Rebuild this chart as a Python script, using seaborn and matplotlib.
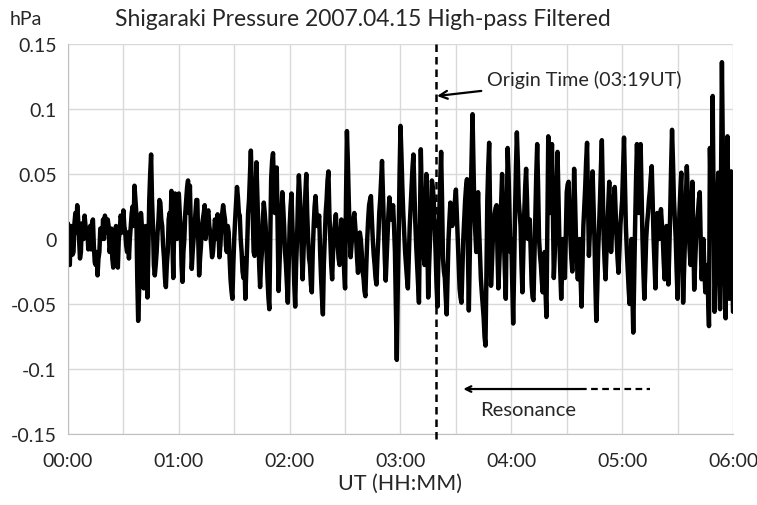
import numpy as np
import pandas as pd
import matplotlib
matplotlib.use('Agg')
import matplotlib.pyplot as plt
import seaborn as sns

# pressure readings at each whole minute (hPa)
hour0 = [0.012, -0.02, 0.0, -0.01, 0.02, 0.026, 0.0, -0.01, 0.008, 0.018,
         0.002, -0.008, 0.01, 0.012, -0.005, -0.02, -0.028, -0.01, 0.005, 0.015,
         0.018, 0.005, 0.01, -0.005, -0.015, -0.02, 0.01, -0.022, 0.005, 0.015,
         0.022, 0.005, -0.01, -0.015, 0.01, 0.025, 0.041, 0.02, -0.063, -0.02,
         0.01, -0.038, 0.01, -0.045, 0.03, 0.065, 0.01, -0.028, -0.01, 0.015,
         0.028, 0.01, -0.015, -0.037, -0.01, 0.02, 0.037, -0.03, 0.035, 0.0]
hour1 = [0.035, 0.01, -0.033, 0.0, 0.03, 0.045, 0.041, -0.023, 0.0, 0.02,
         0.03, -0.028, -0.005, 0.015, 0.026, 0.01, 0.022, 0.005, -0.014, 0.0,
         0.012, 0.019, -0.014, 0.01, 0.026, 0.015, -0.01, 0.005, -0.031, -0.046,
         0.0, 0.028, 0.032, 0.018, -0.01, -0.03, -0.046, -0.005, 0.03, 0.068,
         0.02, -0.013, 0.059, 0.01, -0.037, -0.01, 0.028, 0.01, -0.03, -0.054,
         0.047, 0.066, 0.02, 0.055, -0.04, 0.0, 0.036, 0.01, -0.02, -0.049]
hour2 = [0.01, 0.035, -0.01, -0.052, 0.0, 0.049, 0.02, -0.031, 0.01, 0.05,
         0.0, -0.02, -0.041, 0.01, 0.033, 0.01, 0.018, -0.03, -0.058, 0.0,
         0.03, 0.052, 0.0, -0.031, 0.005, 0.019, -0.005, -0.02, 0.015, 0.0,
         -0.038, 0.083, 0.03, -0.014, 0.005, 0.02, 0.0, -0.026, 0.005, -0.01,
         -0.03, -0.044, 0.0, 0.026, 0.033, 0.0, -0.02, -0.035, 0.0, 0.03,
         0.06, 0.01, -0.032, 0.0, 0.032, 0.015, 0.026, -0.01, -0.093, 0.0]
hour3 = [0.087, 0.04, 0.005, -0.02, -0.038, 0.01, 0.04, 0.065, 0.013, -0.02,
         -0.049, 0.069, 0.0, -0.02, 0.05, -0.045, 0.0, 0.045, 0.03, -0.01,
         -0.052, 0.02, 0.067, -0.015, -0.03, -0.058, 0.0, 0.028, 0.01, 0.018,
         0.038, 0.0, -0.038, -0.049, 0.0, 0.03, 0.046, -0.055, 0.03, 0.096,
         0.02, -0.01, 0.036, -0.01, -0.041, -0.06, -0.082, 0.03, 0.074, -0.036,
         0.0, 0.02, 0.026, -0.038, 0.0, 0.05, 0.0, -0.046, 0.07, 0.02]
hour4 = [0.0, -0.065, 0.02, 0.082, 0.03, 0.01, -0.041, 0.02, 0.054, 0.0,
         0.015, -0.035, -0.047, 0.02, 0.073, 0.0, -0.02, -0.041, -0.01, -0.06,
         0.079, 0.02, 0.073, -0.03, 0.01, 0.067, 0.0, -0.046, 0.0, -0.03,
         0.036, 0.044, 0.0, -0.025, 0.054, 0.0, -0.031, 0.0, -0.052, 0.01,
         0.04, 0.074, -0.013, 0.02, 0.052, 0.0, -0.063, -0.01, 0.03, 0.076,
         0.0, -0.031, 0.01, 0.044, -0.01, 0.02, 0.04, 0.0, -0.026, 0.01]
hour5 = [0.03, 0.078, 0.01, -0.023, -0.05, 0.0, -0.072, 0.01, 0.073, 0.02,
         0.073, 0.0, -0.046, 0.0, 0.02, 0.037, 0.056, 0.0, -0.038, 0.02,
         0.0, 0.023, 0.0, -0.031, 0.01, -0.035, 0.02, 0.084, 0.031, 0.0,
         -0.046, 0.02, 0.051, -0.049, 0.0, 0.056, 0.01, -0.02, 0.044, -0.039,
         0.0, 0.02, 0.036, -0.031, 0.0, -0.041, -0.02, -0.067, 0.03, 0.11,
         -0.056, 0.0, 0.051, -0.054, 0.136, 0.0, -0.061, 0.079, -0.046, 0.052,
         -0.056]

# readings at the half minutes in between (short wiggles in the trace)
half0 = [-0.015, 0.01, -0.012, 0.012, 0.005, 0.015, -0.015, 0.012, 0.0, 0.01,
         0.006, 0.004, -0.008, 0.015, -0.018, -0.01, -0.015, 0.008, 0.0, 0.0,
         0.012, 0.015, -0.01, 0.008, -0.022, 0.0, -0.008, 0.0, 0.018, 0.005,
         0.01, -0.005, 0.005, 0.0, 0.02, 0.01, 0.03, -0.03, -0.04, 0.02,
         -0.02, -0.01, -0.02, -0.01, 0.05, 0.03, -0.02, -0.02, 0.005, 0.03,
         0.015, -0.005, -0.03, -0.02, 0.015, 0.01, 0.0, 0.01, 0.02, 0.03]
half1 = [0.02, -0.02, -0.01, 0.02, 0.04, 0.02, 0.01, -0.01, 0.01, 0.03,
         0.0, -0.015, 0.01, 0.02, 0.0, 0.02, 0.01, -0.005, -0.01, 0.015,
         0.0, 0.005, -0.005, 0.02, 0.02, -0.005, 0.01, -0.015, -0.04, -0.02,
         0.015, 0.04, 0.02, 0.0, -0.025, -0.015, -0.025, 0.02, 0.05, 0.04,
         -0.01, 0.03, 0.035, -0.02, -0.02, 0.015, 0.02, -0.01, -0.045, 0.0,
         0.06, 0.04, 0.04, 0.01, -0.02, 0.02, 0.025, -0.01, -0.035, -0.02]
half2 = [0.025, 0.01, -0.035, -0.02, 0.03, 0.035, -0.01, -0.01, 0.035, 0.02,
         -0.015, -0.035, -0.01, 0.025, 0.02, 0.015, -0.01, -0.045, -0.02, 0.02,
         0.045, 0.02, -0.02, -0.01, 0.012, 0.005, -0.015, 0.0, 0.01, -0.025,
         0.03, 0.06, 0.005, -0.005, 0.015, 0.01, -0.015, -0.01, 0.0, -0.025,
         -0.04, -0.02, 0.015, 0.03, 0.015, -0.012, -0.03, -0.015, 0.02, 0.045,
         0.035, -0.015, -0.015, 0.02, 0.02, 0.022, 0.01, -0.05, -0.04, 0.05]
half3 = [0.065, 0.02, -0.01, -0.03, -0.015, 0.025, 0.055, 0.04, -0.005, -0.035,
         0.01, 0.035, -0.012, 0.015, 0.0, -0.02, 0.025, 0.04, 0.01, -0.035,
         -0.015, 0.045, 0.03, -0.025, -0.045, -0.03, 0.015, 0.02, 0.015, 0.03,
         0.02, -0.02, -0.045, -0.025, 0.015, 0.04, -0.01, -0.01, 0.065, 0.06,
         0.005, 0.015, 0.01, -0.03, -0.05, -0.075, -0.03, 0.055, 0.02, -0.02,
         0.012, 0.024, -0.01, -0.02, 0.028, 0.025, -0.025, 0.01, 0.05, -0.01]
half4 = [-0.035, -0.025, 0.055, 0.06, 0.02, -0.02, -0.01, 0.04, 0.03, 0.008,
         -0.01, -0.045, -0.015, 0.05, 0.04, -0.012, -0.032, -0.025, -0.04, 0.01,
         0.05, 0.05, 0.02, -0.012, 0.04, 0.035, -0.025, -0.025, -0.015, 0.005,
         0.042, 0.02, -0.015, 0.015, 0.03, -0.018, -0.015, -0.03, -0.02, 0.025,
         0.06, 0.03, 0.005, 0.038, 0.025, -0.035, -0.04, 0.01, 0.055, 0.04,
         -0.018, -0.01, 0.028, 0.018, 0.005, 0.032, 0.02, -0.015, -0.01, 0.02]
half5 = [0.055, 0.045, -0.008, -0.038, -0.025, -0.04, -0.03, 0.045, 0.05, 0.048,
         0.035, -0.025, -0.025, 0.012, 0.03, 0.048, 0.03, -0.02, -0.01, 0.01,
         0.012, 0.012, -0.018, -0.012, -0.015, -0.01, 0.055, 0.06, 0.015, -0.025,
         -0.015, 0.037, 0.0, -0.025, 0.03, 0.035, -0.008, 0.015, 0.0, -0.02,
         0.012, 0.03, 0.0, -0.018, -0.022, -0.035, -0.045, 0.07, 0.03, 0.025,
         -0.03, 0.028, -0.005, 0.04, 0.07, -0.035, 0.01, 0.015, 0.005, -0.005]

whole = hour0 + hour1 + hour2 + hour3 + hour4 + hour5
halves = half0 + half1 + half2 + half3 + half4 + half5

minutes = []
hpa = []
for i, v in enumerate(whole):
    minutes.append(i)
    hpa.append(v)
    if i < len(halves):
        minutes.append(i + 0.5)
        hpa.append(halves[i])

tick_minutes = [0, 60, 120, 180, 240, 300, 360]
tick_labels = ['00:00', '01:00', '02:00', '03:00', '04:00', '05:00', '06:00']
y_ticks = [-0.15, -0.1, -0.05, 0, 0.05, 0.1, 0.15]
y_labels = ['-0.15', '-0.1', '-0.05', '0', '0.05', '0.1', '0.15']

origin_min = 199  # 03:19 UT

df = pd.DataFrame({'minute': minutes, 'hpa': hpa})

sns.set_style('white')
plt.rcParams['font.family'] = ['Lato', 'DejaVu Sans']

fig = plt.figure(figsize=(7.57, 5.06), dpi=100)
ax = fig.add_axes([0.0898, 0.1403, 0.8785, 0.7708])

sns.lineplot(data=df, x='minute', y='hpa', color='black', linewidth=3.2, ax=ax)

ax.set_xlim(0, 360)
ax.set_ylim(-0.15, 0.15)
ax.set_xticks(tick_minutes)
ax.set_xticklabels(tick_labels, fontsize=14)
ax.set_xticks(range(30, 360, 60), minor=True)
ax.set_yticks(y_ticks)
ax.set_yticklabels(y_labels, fontsize=14)
ax.tick_params(axis='x', length=0, which='both', pad=13)
ax.tick_params(axis='y', length=0, which='both', pad=8)
ax.grid(True, which='both', color='#d9d9d9', linewidth=1)
ax.set_axisbelow(True)
for side in ['top', 'right']:
    ax.spines[side].set_visible(False)
for side in ['left', 'bottom']:
    ax.spines[side].set_color('#bfbfbf')

ax.set_xlabel('UT (HH:MM)', fontsize=15.5, labelpad=3)
ax.set_ylabel('')
fig.text(0.013, 0.962, 'hPa', fontsize=14, va='center')
fig.text(0.152, 0.962, 'Shigaraki Pressure 2007.04.15 High-pass Filtered',
         fontsize=16.5, va='center')

# origin time marker
ax.plot([origin_min, origin_min], [0.15, -0.154], color='black', linewidth=1.8,
        linestyle=(0, (3, 2)), clip_on=False, zorder=5)
ax.annotate('Origin Time (03:19UT)', xy=(origin_min + 0.8, 0.11), xytext=(227, 0.123),
            fontsize=14.2, va='center', ha='left',
            arrowprops=dict(arrowstyle='->', color='black', lw=1.6,
                            shrinkA=2, shrinkB=0))

# resonance arrow
ax.annotate('', xy=(214, -0.1154), xytext=(277, -0.1154),
            arrowprops=dict(arrowstyle='->', color='black', lw=1.6,
                            shrinkA=0, shrinkB=0))
ax.plot([277, 315], [-0.1154, -0.1154], color='black', linewidth=1.6,
        linestyle=(0, (3, 2)))
ax.text(223, -0.131, 'Resonance', fontsize=14.5, va='center', ha='left')

fig.savefig('out.png', dpi=100)
